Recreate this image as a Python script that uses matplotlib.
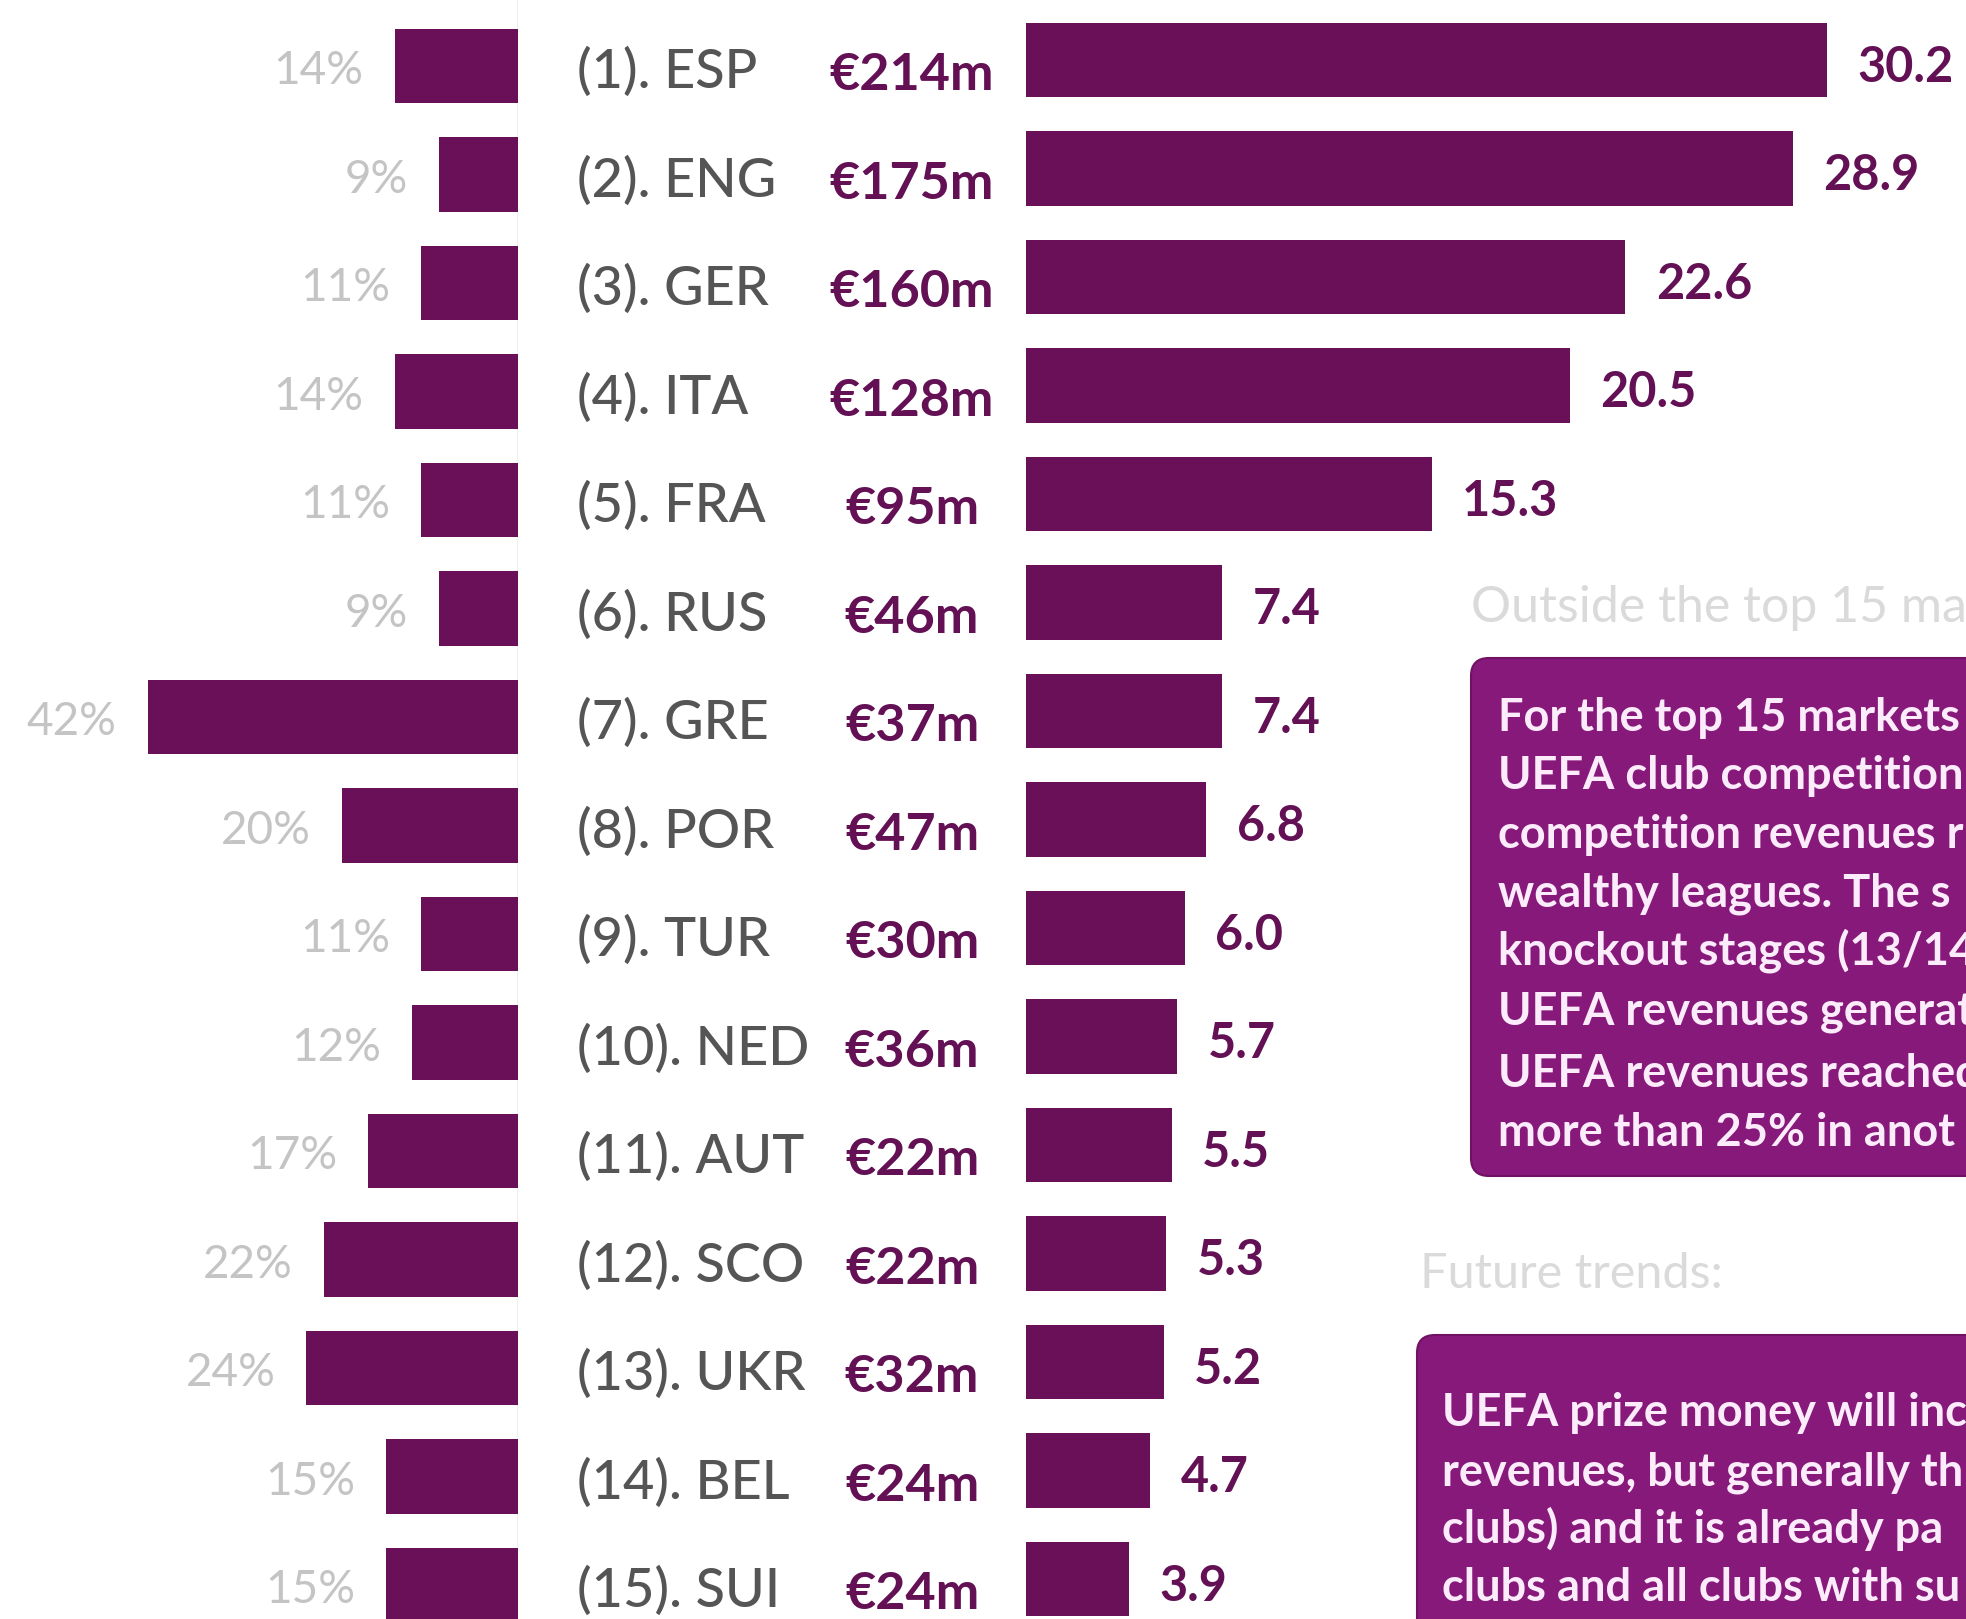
import matplotlib.pyplot as plt
import matplotlib.transforms as mtransforms
from matplotlib.patches import FancyBboxPatch

# Data (top 15 markets)
countries = ["ESP", "ENG", "GER", "ITA", "FRA", "RUS", "GRE", "POR",
             "TUR", "NED", "AUT", "SCO", "UKR", "BEL", "SUI"]
pct_share = [14, 9, 11, 14, 11, 9, 42, 20, 11, 12, 17, 22, 24, 15, 15]
uefa_rev = [214, 175, 160, 128, 95, 46, 37, 47, 30, 36, 22, 22, 32, 24, 24]
ratio = [30.2, 28.9, 22.6, 20.5, 15.3, 7.4, 7.4, 6.8, 6.0, 5.7, 5.5, 5.3, 5.2, 4.7, 3.9]

box1_head = "Outside the top 15 ma"
box1_lines = ["For the top 15 markets",
              "UEFA club competition",
              "competition revenues r",
              "wealthy leagues. The s",
              "knockout stages (13/14",
              "UEFA revenues generat",
              "UEFA revenues reached",
              "more than 25% in anot"]
box2_head = "Future trends:"
box2_lines = ["UEFA prize money will inc",
              "revenues, but generally th",
              "clubs) and it is already pa",
              "clubs and all clubs with su"]

# colours
PURPLE = "#6a1059"
TXT_PURPLE = "#631055"
GREY = "#555555"
LIGHT = "#c4c4c4"
HEAD = "#dadada"
BOX = "#87197a"
BOX_TXT = "#fcecfb"

W, H = 1966, 1619
STEP = 108.5          # px per row
plt.rcParams['font.family'] = ['Lato', 'DejaVu Sans']
fig = plt.figure(figsize=(W / 100, H / 100), dpi=100)

# background axes in pixel units for the text boxes
ax_bg = fig.add_axes([0, 0, 1, 1])
ax_bg.set_xlim(0, W)
ax_bg.set_ylim(H, 0)
ax_bg.axis("off")


def rows_lim(c0):
    return ((H - c0) / STEP, -c0 / STEP)


n = len(countries)
rows = list(range(n))

# left bars: share in %
L_EDGE = 518
ax_l = fig.add_axes([0, 0, L_EDGE / W, 1])
ax_l.barh(rows, pct_share, height=0.69, color=PURPLE)
ax_l.set_xlim(L_EDGE / 8.82, 0)
ax_l.set_ylim(*rows_lim(66))
ax_l.axis("off")
ax_l.axvline(0, color="#efefef", lw=1.5, zorder=0)
for i, p in enumerate(pct_share):
    ax_l.text(p + 3.5, i + 0.17, f"{p}%", ha="right", va="baseline",
              fontsize=33, color=LIGHT)

# right bars
R_EDGE = 1025.6
ax_r = fig.add_axes([R_EDGE / W, 0, 1 - R_EDGE / W, 1])
ax_r.barh(rows, ratio, height=0.69, color=PURPLE)
ax_r.set_xlim(0, (W - R_EDGE) / 26.54)
ax_r.set_ylim(*rows_lim(60))
ax_r.axis("off")
for i, v in enumerate(ratio):
    ax_r.text(v + 1.15, i + 0.2, f"{v:.1f}", ha="left", va="baseline",
              fontsize=35, fontweight="bold", color=TXT_PURPLE)

# middle labels
tr = mtransforms.blended_transform_factory(ax_bg.transData, ax_r.transData)
for i, (c, r) in enumerate(zip(countries, uefa_rev)):
    ax_bg.text(577, i + 0.26, f"({i + 1}). {c}", transform=tr, ha="left",
               va="baseline", fontsize=39, fontweight="medium", color=GREY)
    ax_bg.text(912, i + 0.28, f"\u20ac{r}m", transform=tr, ha="center",
               va="baseline", fontsize=37.5, fontweight="bold", color=TXT_PURPLE)

# text boxes on the right
ax_bg.text(1471, 622, box1_head, fontsize=36, color=HEAD, va="baseline")
ax_bg.add_patch(FancyBboxPatch((1471, 658), 700, 518,
                               boxstyle="round,pad=0,rounding_size=18",
                               fc=BOX, ec="#6f1264", lw=1.5))
for y, s in zip([731, 789, 848, 906, 964, 1024, 1087, 1146], box1_lines):
    ax_bg.text(1498, y, s, fontsize=32.5, fontweight="bold", color=BOX_TXT,
               va="baseline")

ax_bg.text(1420, 1288, box2_head, fontsize=35, color=HEAD, va="baseline")
ax_bg.add_patch(FancyBboxPatch((1417, 1335), 700, 400,
                               boxstyle="round,pad=0,rounding_size=18",
                               fc=BOX, ec="#6f1264", lw=1.5))
for y, s in zip([1426, 1485, 1543, 1601], box2_lines):
    ax_bg.text(1442, y, s, fontsize=32.5, fontweight="bold", color=BOX_TXT,
               va="baseline")

fig.savefig("out.png", dpi=100)
